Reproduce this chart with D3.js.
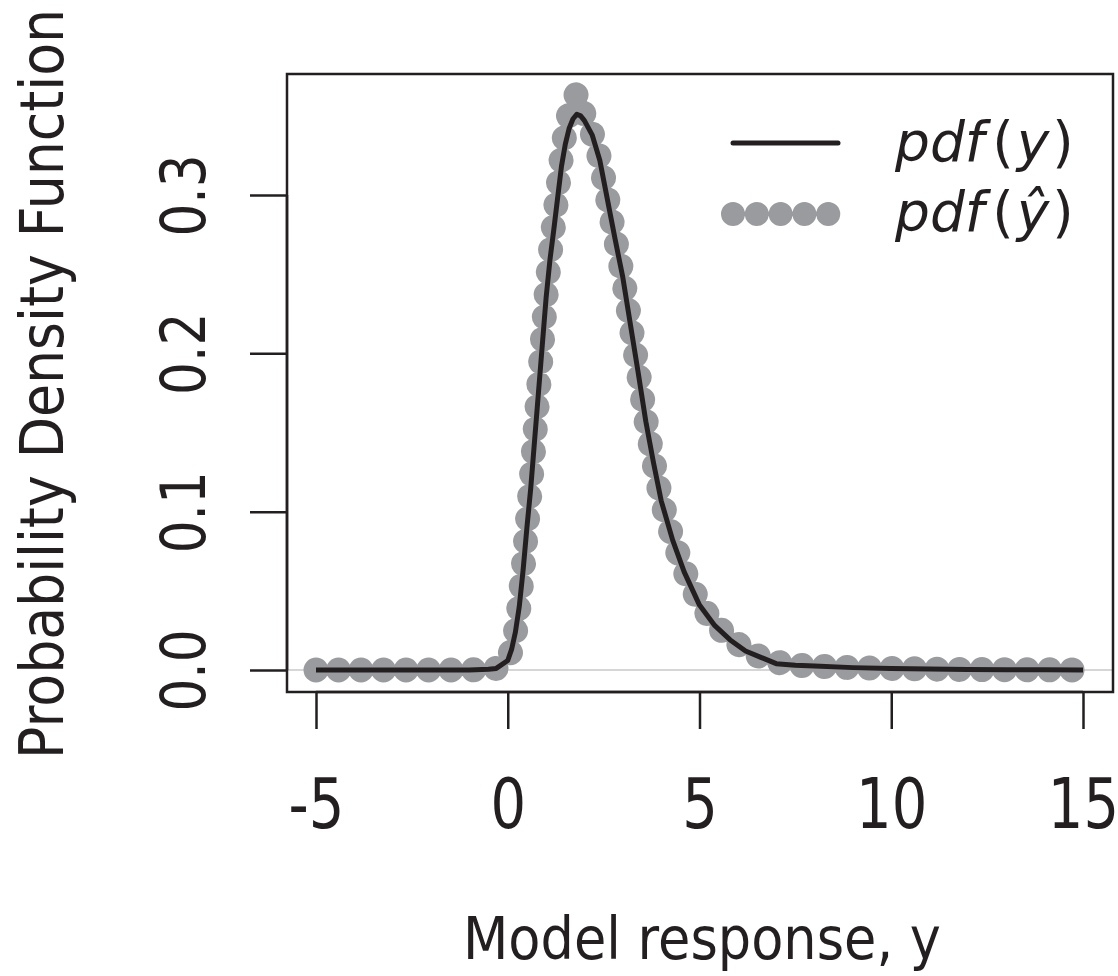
<!DOCTYPE html>
<html>
<head>
<meta charset="utf-8">
<script src="https://cdn.jsdelivr.net/npm/d3@7"></script>
<style>
  html, body { margin: 0; padding: 0; background: #fff; }
  svg { display: block; }
  text { font-family: "DejaVu Sans", sans-serif; fill: #231f20; }
</style>
</head>
<body>
<svg id="chart" width="1118" height="976"></svg>
<script>
// ---- data ----
const xPdfY = [-5, -4, -3, -2, -1, -0.5, -0.3, 0, 0.1, 0.2, 0.3, 0.4, 0.5, 0.6, 0.7, 0.8, 0.9, 1.0, 1.1, 1.2, 1.3, 1.4, 1.5, 1.6, 1.7, 1.8, 1.9, 2.0, 2.2, 2.4, 2.6, 2.8, 3.0, 3.2, 3.4, 3.6, 3.8, 4.0, 4.3, 4.6, 5.0, 5.4, 5.8, 6.2, 6.6, 7.0, 7.5, 8, 9, 10, 11, 12, 13, 14, 15];
const pdfY  = [0, 0, 0, 0, 0, 0.0005, 0.001, 0.006, 0.013, 0.024, 0.040, 0.063, 0.090, 0.115, 0.145, 0.175, 0.205, 0.235, 0.259, 0.278, 0.298, 0.318, 0.332, 0.342, 0.348, 0.351, 0.350, 0.347, 0.338, 0.322, 0.297, 0.272, 0.248, 0.218, 0.188, 0.157, 0.131, 0.107, 0.082, 0.062, 0.041, 0.028, 0.019, 0.012, 0.008, 0.004, 0.003, 0.0025, 0.0015, 0.001, 0.0006, 0.0003, 0.0002, 0.0001, 0];
const xPdfYhat = [-5, -4, -3, -2, -1, -0.5, -0.3, 0, 0.1, 0.2, 0.3, 0.4, 0.5, 0.6, 0.7, 0.8, 0.9, 1.0, 1.1, 1.2, 1.3, 1.4, 1.5, 1.6, 1.7, 1.8, 1.9, 2.0, 2.2, 2.4, 2.6, 2.8, 3.0, 3.2, 3.4, 3.6, 3.8, 4.0, 4.3, 4.6, 5.0, 5.4, 5.8, 6.2, 6.6, 7.0, 7.5, 8, 9, 10, 11, 12, 13, 14, 15];
const pdfYhat  = [0, 0, 0, 0, 0, 0.0005, 0.001, 0.006, 0.013, 0.024, 0.041, 0.064, 0.091, 0.117, 0.147, 0.177, 0.207, 0.237, 0.262, 0.282, 0.303, 0.324, 0.340, 0.352, 0.360, 0.364, 0.358, 0.350, 0.339, 0.323, 0.298, 0.273, 0.249, 0.219, 0.189, 0.158, 0.132, 0.108, 0.083, 0.063, 0.042, 0.029, 0.020, 0.013, 0.008, 0.005, 0.003, 0.0025, 0.0015, 0.001, 0.0006, 0.0003, 0.0002, 0.0001, 0];
const xTicks = [-5, 0, 5, 10, 15];
const xTickLabels = ["-5", "0", "5", "10", "15"];
const yTicks = [0, 0.1, 0.2, 0.3];
const yTickLabels = ["0.0", "0.1", "0.2", "0.3"];
const xTitle = "Model response, y";
const yTitle = "Probability Density Function";
const legendFn = ["pdf", "pdf"];
const legendArg = ["y", "\u0177"];

// ---- layout ----
const svg = d3.select("#chart");
const box = { left: 287, right: 1113, top: 74, bottom: 692 };
const x = d3.scaleLinear().domain([-5, 15]).range([316, 1083]);
const y = d3.scaleLinear().domain([0, 0.3]).range([670, 195]);
const ink = "#231f20";
const grey = "#9a9b9f";
const narrow = 0.82;

function squeeze(sel, factor) {
  sel.each(function () {
    const w = this.getComputedTextLength();
    d3.select(this).attr("textLength", w * factor).attr("lengthAdjust", "spacingAndGlyphs");
  });
}

// zero reference line
svg.append("line")
  .attr("x1", box.left).attr("x2", box.right)
  .attr("y1", y(0)).attr("y2", y(0))
  .attr("stroke", "#c9c9c9").attr("stroke-width", 1.5);

const lineGen = (xs, ys) => d3.line().x((d, i) => x(xs[i])).y((d, i) => y(ys[i])).curve(d3.curveLinear)(ys);

// grey dotted estimate
svg.append("path")
  .attr("d", lineGen(xPdfYhat, pdfYhat))
  .attr("fill", "none").attr("stroke", grey)
  .attr("stroke-width", 25).attr("stroke-linecap", "round").attr("stroke-linejoin", "round")
  .attr("stroke-dasharray", "0.01 22.5");

// black true pdf
svg.append("path")
  .attr("d", lineGen(xPdfY, pdfY))
  .attr("fill", "none").attr("stroke", ink)
  .attr("stroke-width", 5).attr("stroke-linejoin", "round").attr("stroke-linecap", "butt");

// box
svg.append("rect")
  .attr("x", box.left).attr("y", box.top)
  .attr("width", box.right - box.left).attr("height", box.bottom - box.top)
  .attr("fill", "none").attr("stroke", ink).attr("stroke-width", 2.5);

// x axis
const xAxis = d3.axisBottom(x).tickValues(xTicks).tickSize(37).tickFormat((d, i) => xTickLabels[i]);
const gx = svg.append("g").attr("transform", `translate(0,${box.bottom})`).call(xAxis);
gx.select(".domain").attr("stroke", ink).attr("stroke-width", 2.5).attr("d", `M${x(-5)},0H${x(15)}`);
gx.selectAll(".tick line").attr("stroke", ink).attr("stroke-width", 2.5);
gx.selectAll(".tick text")
  .attr("y", 136).attr("dy", null)
  .style("font-family", "DejaVu Sans").style("font-size", "70px").attr("fill", ink)
  .call(squeeze, 0.8);

// y axis
const yAxis = d3.axisLeft(y).tickValues(yTicks).tickSize(37).tickFormat((d, i) => yTickLabels[i]);
const gy = svg.append("g").attr("transform", `translate(${box.left},0)`).call(yAxis);
gy.select(".domain").attr("stroke", ink).attr("stroke-width", 2.5).attr("d", `M0,${y(0)}V${y(0.3)}`);
gy.selectAll(".tick line").attr("stroke", ink).attr("stroke-width", 2.5);
gy.selectAll(".tick text")
  .attr("x", null).attr("dy", null).attr("y", null)
  .attr("text-anchor", "middle")
  .attr("transform", "translate(-82,0) rotate(-90)")
  .style("font-family", "DejaVu Sans").style("font-size", "63px").attr("fill", ink)
  .call(squeeze, narrow);

// axis titles
svg.append("text")
  .attr("x", 702).attr("y", 959)
  .attr("text-anchor", "middle")
  .style("font-size", "58px")
  .attr("textLength", 478).attr("lengthAdjust", "spacingAndGlyphs")
  .text(xTitle);

svg.append("text")
  .attr("transform", "translate(63,384) rotate(-90)")
  .attr("text-anchor", "middle")
  .style("font-size", "61px")
  .attr("textLength", 750).attr("lengthAdjust", "spacingAndGlyphs")
  .text(yTitle);

// legend
const leg = svg.append("g");
leg.append("line")
  .attr("x1", 733).attr("x2", 838).attr("y1", 143).attr("y2", 143)
  .attr("stroke", ink).attr("stroke-width", 5).attr("stroke-linecap", "round");
leg.append("line")
  .attr("x1", 733).attr("x2", 829).attr("y1", 214).attr("y2", 214)
  .attr("stroke", grey).attr("stroke-width", 24).attr("stroke-linecap", "round")
  .attr("stroke-dasharray", "0.01 23.8");
const lt = leg.selectAll("text.leg").data(legendFn).join("text")
  .attr("class", "leg")
  .attr("x", 895).attr("y", (d, i) => 161 + i * 70)
  .style("font-size", "55px").style("font-style", "italic");
lt.append("tspan").text(d => d);
lt.append("tspan").attr("dx", 8).style("font-style", "normal").text("(");
lt.append("tspan").attr("dx", 3).text((d, i) => legendArg[i]);
lt.append("tspan").attr("dx", 3).style("font-style", "normal").text(")");
</script>
</body>
</html>
